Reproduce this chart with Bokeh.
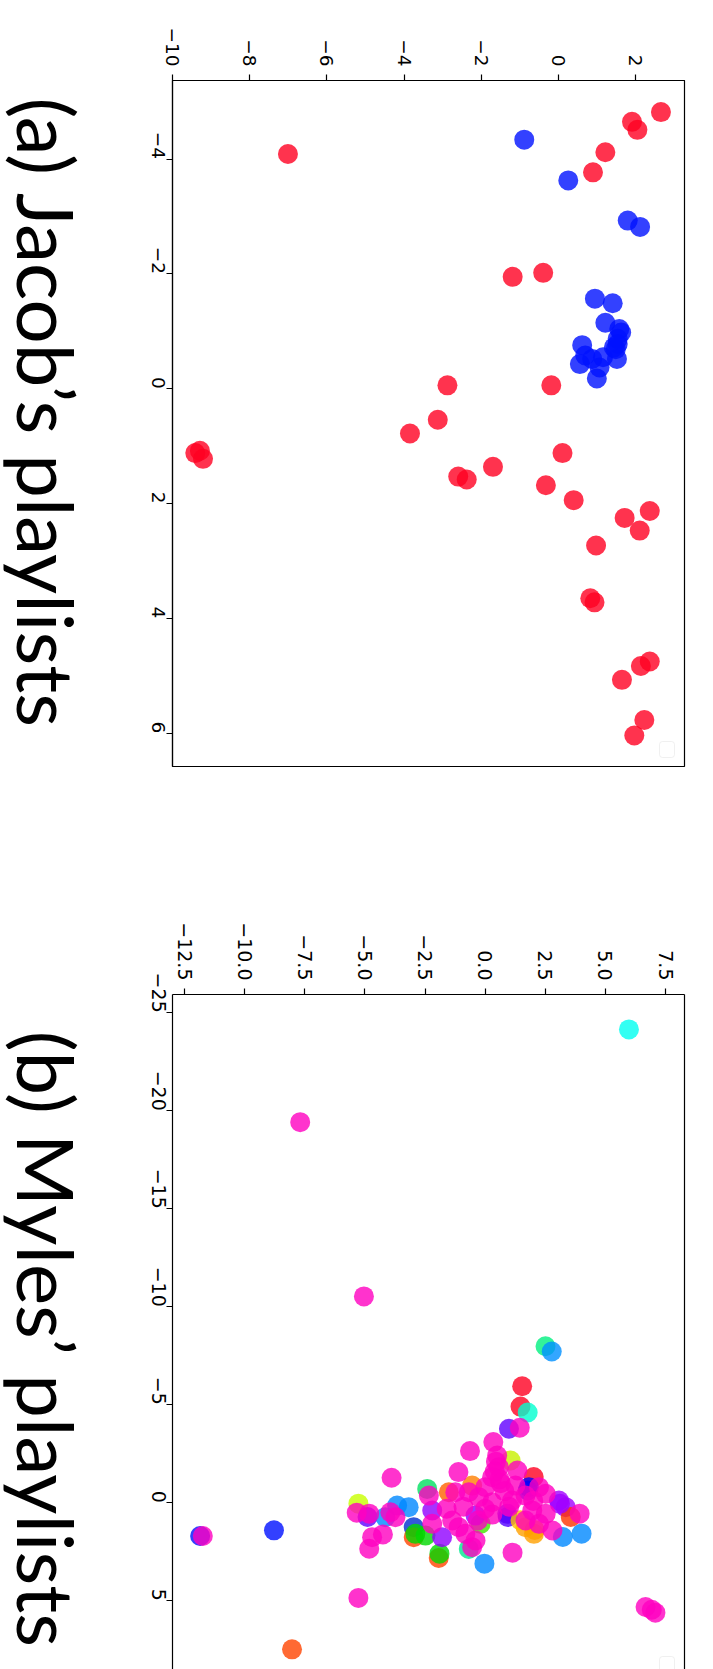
import math
from bokeh.plotting import figure
from bokeh.layouts import column, row
from bokeh.models import Range1d, FixedTicker, BoxAnnotation, LinearAxis
from bokeh.core.properties import value
from bokeh.embed import file_html
from bokeh.resources import INLINE

# ---------------- data: (a) Jacob's playlists ----------------
# values on the horizontal axis (-10 .. 2) and on the vertical axis (-4 .. 6)
jacob_red_h = [2.65, 1.90, 2.04, 1.21, 0.89, -7.01, -0.40, -1.19, -2.88, -0.19, -3.13,
               -9.29, -9.41, -9.21, -3.85, -2.60, -2.38, -1.70, 0.10, -0.33, 0.39, 1.71,
               2.36, 2.10, 0.97, 0.82, 0.93, 2.36, 2.13, 1.64, 2.22, 1.96]
jacob_red_v = [-4.82, -4.65, -4.51, -4.12, -3.77, -4.09, -2.02, -1.95, -0.06, -0.06, 0.54,
               1.08, 1.12, 1.22, 0.78, 1.53, 1.58, 1.36, 1.12, 1.68, 1.94, 2.25,
               2.13, 2.47, 2.73, 3.65, 3.72, 4.75, 4.83, 5.07, 5.77, 6.04]
jacob_blue_h = [-0.89, 0.25, 1.79, 2.11, 0.94, 1.40, 1.21, 1.57, 1.62, 0.61, 1.53,
                1.48, 0.69, 0.87, 0.55, 1.15, 1.51, 1.06, 0.99, 1.43, 1.53]
jacob_blue_v = [-4.34, -3.63, -2.93, -2.82, -1.57, -1.49, -1.15, -1.04, -0.98, -0.76, -0.78,
                -0.69, -0.58, -0.52, -0.43, -0.55, -0.52, -0.37, -0.18, -0.72, -0.87]
jacob_top_ticks = [-10, -8, -6, -4, -2, 0, 2]
jacob_top_labels = ["\u221210", "\u22128", "\u22126", "\u22124", "\u22122", "0", "2"]
jacob_left_ticks = [-4, -2, 0, 2, 4, 6]
jacob_left_labels = ["\u22124", "\u22122", "0", "2", "4", "6"]
jacob_title = "(a) Jacob\u2019s playlists"

# ---------------- data: (b) Myles' playlists ----------------
myles_other_h = [5.98, 2.51, 2.77, 1.54, 1.47, 1.77, 0.99, 2.02, -5.27, -4.89,
                 -11.85, -8.78, -1.93, -1.90, -0.03, 4.01, 3.23, -8.03, 1.06, 1.82,
                 -2.41, -1.51, -0.54, 0.92, 3.07, 3.35, 1.68, 2.03, -4.15, -3.66,
                 -3.18, -2.97, -2.97, -2.90, -2.48, -2.20, -1.79, -0.19, -0.68, -0.40,
                 3.56, 1.77, 0.94, 1.47, 2.06, 3.11]
myles_other_v = [-24.15, -7.99, -7.72, -5.95, -4.91, -4.61, -3.78, -1.32, 0.04, 0.72,
                 1.69, 1.40, 2.81, 2.59, 3.10, 1.57, 1.74, 7.47, -2.16, -0.80,
                 -0.71, -0.54, -0.88, 0.56, -0.12, 0.22, 1.24, 1.58, 0.73, 0.14,
                 0.22, 1.24, 1.75, 1.58, 1.67, 0.39, 1.75, 1.07, 2.35, 0.65,
                 0.72, -0.63, 0.72, 0.89, 1.38, 0.05]
myles_other_color = ["#00fff0", "#00f080", "#0090ff", "#ff0022", "#ff0022", "#00ffd0",
                     "#6000ff", "#ff0022", "#c8ff00", "#6000ff", "#0010ff", "#0010ff",
                     "#ff4400", "#00d800", "#0088ff", "#0088ff", "#0088ff", "#ff4400",
                     "#c8f000", "#0000ff", "#00e060", "#ff6000", "#ff8000", "#6000ff",
                     "#a000ff", "#a000ff", "#ffa000", "#ffa000", "#0088ff", "#0088ff",
                     "#0088ff", "#0030d0", "#ff4400", "#00d800", "#00d800", "#9000ff",
                     "#9000ff", "#40e800", "#00e890", "#9000ff", "#ff3300", "#0000ff",
                     "#5000ff", "#ffc000", "#ffa000", "#a000ff"]
myles_mag_h = [-7.69, -5.04, 1.44, 0.34, -0.63, -1.11, -3.89, -5.34, -4.82, -11.74,
               -4.25, -4.70, -4.82, 1.14, 3.93, -5.27, 6.67, 7.08, 6.93,
               0.50, 0.57, 0.29, 0.01, 1.34, 1.26, -2.34, -1.24, -0.68, -0.26,
               0.29, 1.12, 1.68, 2.24, 2.52, 1.96, 2.52, 1.68, 2.24, 2.80,
               -3.94, -3.73, -2.20, -1.37, -1.10, -0.40, -0.54, -0.82, 0.60, 0.80,
               0.00, -0.90, -1.60, 1.00, 2.00, 0.30, -0.30, 0.45, 0.40, 0.65]
myles_mag_v = [-19.42, -10.53, -3.83, -3.10, -2.64, -1.57, -1.28, 0.50, 0.55, 1.69,
               1.61, 1.75, 2.34, 2.54, 0.55, 4.85, 5.31, 5.60, 5.45,
               -2.41, -1.82, -1.31, -0.80, -1.65, -0.88, -0.37, -0.54, -0.54, -0.29,
               -0.03, -0.12, -0.37, -0.80, -0.46, 0.39, 0.56, 0.90, 1.07, 1.41,
               0.48, 0.73, 1.07, 0.90, 1.24, 1.92, 2.26, 1.58, -1.20, -0.60,
               0.30, 0.20, 0.30, 0.20, -0.10, 0.60, 0.90, -2.10, -1.60, -1.00]
myles_top_ticks = [-12.5, -10.0, -7.5, -5.0, -2.5, 0.0, 2.5, 5.0, 7.5]
myles_top_labels = ["\u221212.5", "\u221210.0", "\u22127.5", "\u22125.0", "\u22122.5",
                    "0.0", "2.5", "5.0", "7.5"]
myles_left_ticks = [-25, -20, -15, -10, -5, 0, 5]
myles_left_labels = ["\u221225", "\u221220", "\u221215", "\u221210", "\u22125", "0", "5"]
myles_title = "(b) Myles\u2019 playlists"

TICK_FONT = "DejaVu Sans"
TITLE_FONT = "Lato"
TITLE_W = 100


def style_axis(ax, ticks, labels, size):
    ax.ticker = FixedTicker(ticks=ticks)
    ax.major_label_overrides = {t: l for t, l in zip(ticks, labels)}
    ax.major_label_orientation = -math.pi / 2
    ax.major_label_text_font = TICK_FONT
    ax.major_label_text_font_size = size
    ax.major_label_text_color = "black"
    ax.major_label_standoff = 8
    ax.major_tick_in = 0
    ax.major_tick_out = 6
    ax.major_tick_line_color = "black"
    ax.major_tick_line_width = 1.2
    ax.minor_tick_line_color = None
    ax.axis_line_color = "black"
    ax.axis_line_width = 1.2


def title_panel(text, height, center_px):
    t = figure(width=TITLE_W, height=height, output_backend="svg", toolbar_location=None,
               x_range=Range1d(0, TITLE_W), y_range=Range1d(0, height),
               x_axis_type=None, y_axis_type=None, min_border=0)
    t.grid.visible = False
    t.outline_line_color = None
    t.text(x=[46], y=[height - center_px], text=[text], angle=-math.pi / 2,
           text_font=value(TITLE_FONT), text_font_size="78px",
           text_align="center", text_baseline="middle", text_color="black")
    return t


# ---------------- figure (a) ----------------
H1 = 880
p1 = figure(width=713 - TITLE_W, height=H1, output_backend="svg", toolbar_location=None,
            x_range=Range1d(-10.0, 3.26), y_range=Range1d(6.58, -5.37),
            x_axis_location="above",
            min_border_left=172 - TITLE_W, min_border_right=29, min_border_top=80,
            min_border_bottom=114)
p1.grid.visible = False
p1.outline_line_color = "black"
p1.outline_line_width = 1.2
style_axis(p1.xaxis[0], jacob_top_ticks, jacob_top_labels, "18.5px")
style_axis(p1.yaxis[0], jacob_left_ticks, jacob_left_labels, "18.5px")

p1.scatter(jacob_blue_h, jacob_blue_v, size=20, color="#0011ff", alpha=0.8, line_color=None)
p1.scatter(jacob_red_h, jacob_red_v, size=20, color="#ff0022", alpha=0.8, line_color=None)

p1.add_layout(BoxAnnotation(left=487, right=502, bottom=9, top=25,
                            left_units="screen", right_units="screen",
                            bottom_units="screen", top_units="screen",
                            fill_color="white", fill_alpha=1, line_color="#cccccc",
                            line_width=1, border_radius=3))
t1 = title_panel(jacob_title, H1, 427)

# ---------------- figure (b) ----------------
H2 = 1669 - H1
p2 = figure(width=713 - TITLE_W, height=H2, output_backend="svg", toolbar_location=None,
            x_range=Range1d(-13.0, 8.29), y_range=Range1d(8.50, -25.93),
            x_axis_location="above",
            min_border_left=172 - TITLE_W, min_border_right=29, min_border_top=114,
            min_border_bottom=0)
p2.grid.visible = False
p2.outline_line_color = None
style_axis(p2.xaxis[0], myles_top_ticks, myles_top_labels, "19px")
style_axis(p2.yaxis[0], myles_left_ticks, myles_left_labels, "19px")
right_ax = LinearAxis(ticker=FixedTicker(ticks=[]), axis_line_color="black", axis_line_width=1.2,
                      major_tick_line_color=None, minor_tick_line_color=None,
                      major_label_text_font_size="0px")
p2.add_layout(right_ax, "right")

p2.scatter(myles_other_h, myles_other_v, size=20, color=myles_other_color, alpha=0.8, line_color=None)
p2.scatter(myles_mag_h, myles_mag_v, size=20, color="#ff00c0", alpha=0.8, line_color=None)

p2.add_layout(BoxAnnotation(left=487, right=502, bottom=-4, top=13,
                            left_units="screen", right_units="screen",
                            bottom_units="screen", top_units="screen",
                            fill_color="white", fill_alpha=1, line_color="#cccccc",
                            line_width=1, border_radius=3))
t2 = title_panel(myles_title, H2, 1283 - H1)

layout = column(row(t1, p1, spacing=0), row(t2, p2, spacing=0), spacing=0)
open("out.html", "w").write(file_html(layout, INLINE))
